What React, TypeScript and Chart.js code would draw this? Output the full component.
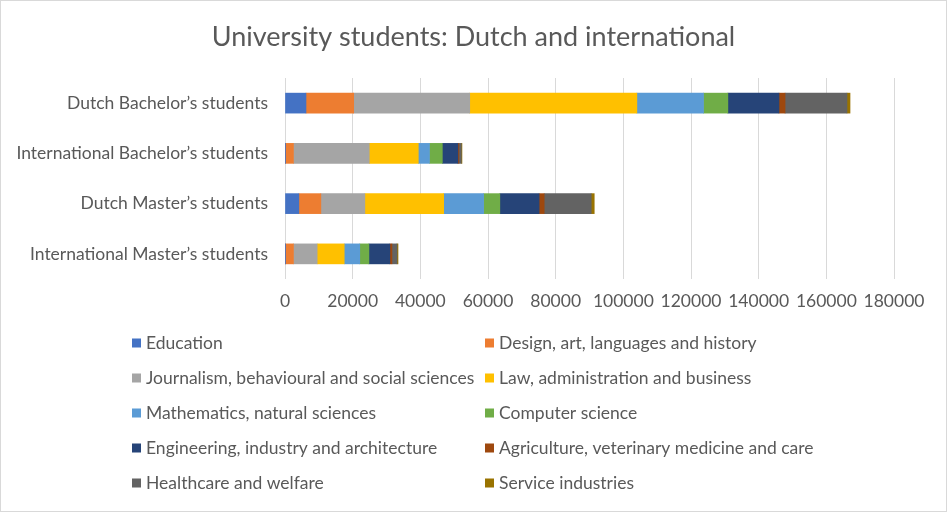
import React, { useEffect, useRef } from "react";
import { Chart, registerables } from "chart.js";

Chart.register(...registerables);

const categories = [
  "Dutch Bachelor’s students",
  "International Bachelor’s students",
  "Dutch Master’s students",
  "International Master’s students",
];

const education = [6200, 100, 4100, 100];
const design = [14100, 2400, 6500, 2400];
const journalism = [34300, 22400, 13000, 7000];
const law = [49400, 14500, 23300, 8000];
const mathematics = [19700, 3300, 11800, 4600];
const computer = [7200, 3800, 4800, 2700];
const engineering = [15100, 4600, 11600, 6200];
const agriculture = [1800, 300, 1500, 600];
const healthcare = [18300, 700, 13900, 1500];
const service = [900, 200, 900, 300];

const seriesNames = [
  "Education",
  "Design, art, languages and history",
  "Journalism, behavioural and social sciences",
  "Law, administration and business",
  "Mathematics, natural sciences",
  "Computer science",
  "Engineering, industry and architecture",
  "Agriculture, veterinary medicine and care",
  "Healthcare and welfare",
  "Service industries",
];
const seriesValues = [education, design, journalism, law, mathematics, computer, engineering, agriculture, healthcare, service];
const seriesColors = ["#4472C4", "#ED7D31", "#A5A5A5", "#FFC000", "#5B9BD5", "#70AD47", "#264478", "#9E480E", "#636363", "#997300"];

const titleText = "University students: Dutch and international";
const FONT = "Lato, 'Noto Sans', sans-serif";
const TEXT = "#595959";
const LABEL_SIZE = 17.5;

const legendPlugin = {
  id: "twoColLegend",
  afterDraw(chart: any) {
    const ctx = chart.ctx;
    ctx.save();
    ctx.font = `${LABEL_SIZE}px ${FONT}`;
    ctx.textBaseline = "middle";
    ctx.textAlign = "left";
    const cols = [131, 484];
    chart.data.datasets.forEach((ds: any, i: number) => {
      const col = i % 2;
      const row = Math.floor(i / 2);
      const y = 342 + row * 35;
      const bx = cols[col];
      ctx.fillStyle = ds.backgroundColor;
      ctx.fillRect(bx, y - 4.5, 9, 9);
      ctx.fillStyle = TEXT;
      ctx.fillText(ds.label, bx + 14, y);
    });
    ctx.restore();
  },
};

export default function App() {
  const ref = useRef<HTMLCanvasElement>(null);
  useEffect(() => {
    if (!ref.current) return;
    const chart = new Chart(ref.current, {
      type: "bar",
      data: {
        labels: categories,
        datasets: seriesNames.map((name, i) => ({
          label: name,
          data: seriesValues[i],
          backgroundColor: seriesColors[i],
          borderWidth: 0,
          barThickness: 20,
        })),
      },
      options: {
        indexAxis: "y",
        animation: false,
        responsive: true,
        maintainAspectRatio: false,
        layout: { padding: { left: 0, right: 0, top: 0, bottom: 187 } },
        plugins: {
          legend: { display: false },
          tooltip: { enabled: false },
          title: {
            display: true,
            text: titleText,
            color: TEXT,
            font: { family: FONT, size: 27, weight: "normal", lineHeight: 1.2 },
            padding: { top: 19.8, bottom: 24.8 },
          },
        },
        scales: {
          x: {
            stacked: true,
            min: 0,
            max: 180000,
            border: { display: false },
            grid: { color: "#D9D9D9", drawTicks: false },
            ticks: {
              stepSize: 20000,
              color: TEXT,
              padding: 12,
              font: { family: FONT, size: LABEL_SIZE },
              maxRotation: 0,
              callback: (v: any) => String(v),
            },
            afterFit: (scale: any) => {
              scale.paddingRight = 52;
            },
          },
          y: {
            stacked: true,
            border: { display: false },
            grid: { display: false, drawTicks: false },
            ticks: { color: TEXT, padding: 17, font: { family: FONT, size: LABEL_SIZE } },
            afterFit: (scale: any) => {
              scale.width = 284;
            },
          },
        },
      },
      plugins: [legendPlugin],
    });
    return () => chart.destroy();
  }, []);
  return (
    <div
      style={{
        position: "fixed",
        left: 0,
        top: 0,
        width: 947,
        height: 512,
        boxSizing: "border-box",
        border: "1px solid #D9D9D9",
        background: "#fff",
      }}
    >
      <canvas ref={ref} />
    </div>
  );
}
